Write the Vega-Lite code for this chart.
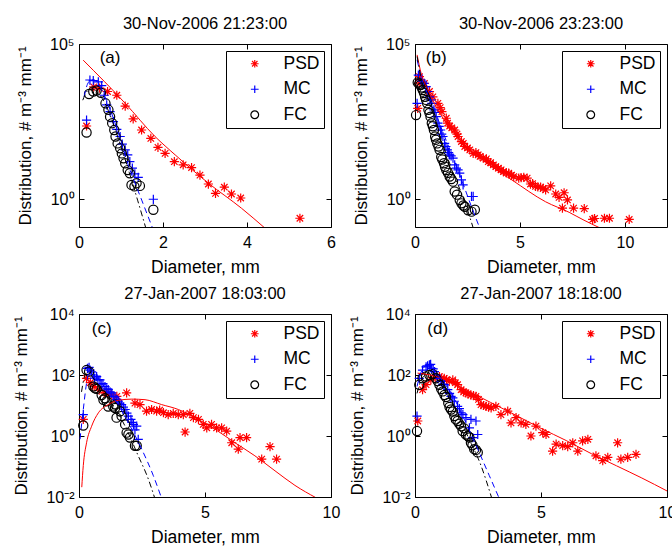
{
"$schema": "https://vega.github.io/schema/vega-lite/v6.json",
"background": "white",
"padding": {"left": 12, "top": 15, "right": 0, "bottom": 0},
"columns": 2,
"spacing": {"row": 87, "column": 84},
"bounds": "flush",
"resolve": {"scale": {"color": "independent", "shape": "independent"}},
"config": {
  "font": "Liberation Sans",
  "view": {"stroke": "black", "strokeWidth": 1},
  "axis": {"domain": false, "grid": false, "tickColor": "black", "tickSize": -5, "tickWidth": 1, "labelFont": "Liberation Sans", "labelFontSize": 16, "labelColor": "black", "labelFlush": false, "labelOverlap": false, "titleFont": "Liberation Sans", "titleFontWeight": "normal", "titleColor": "black"},
  "axisX": {"labelPadding": 12, "titlePadding": 8, "titleFontSize": 17.5},
  "axisY": {"labelPadding": 10, "titlePadding": 15, "titleFontSize": 17},
  "title": {"font": "Liberation Sans", "fontSize": 16.5, "fontWeight": "normal", "color": "black", "offset": 4, "frame": "group", "anchor": "middle"},
  "legend": {"orient": "top-right", "offset": 7, "strokeColor": "black", "fillColor": "white", "padding": 4, "rowPadding": 6.5, "symbolOffset": 16, "labelOffset": 20, "symbolSize": 60, "symbolStrokeWidth": 1.2, "labelFont": "Liberation Sans", "labelFontSize": 17.5, "labelColor": "black", "cornerRadius": 0}
},
"datasets": {
"pa": [
{"s":"PSD","D":0.18,"N":229},{"s":"PSD","D":0.35,"N":4169},{"s":"PSD","D":0.49,"N":3802},{"s":"PSD","D":0.68,"N":2951},{"s":"PSD","D":0.90,"N":2239},{"s":"PSD","D":1.10,"N":1000},{"s":"PSD","D":1.29,"N":389},{"s":"PSD","D":1.49,"N":170},{"s":"PSD","D":1.71,"N":91},{"s":"PSD","D":1.88,"N":47},{"s":"PSD","D":2.05,"N":30},{"s":"PSD","D":2.27,"N":16.2},{"s":"PSD","D":2.48,"N":12.9},{"s":"PSD","D":2.68,"N":10.5},{"s":"PSD","D":2.88,"N":6.0},{"s":"PSD","D":3.08,"N":3.1},{"s":"PSD","D":3.25,"N":1.55},{"s":"PSD","D":3.46,"N":2.45},{"s":"PSD","D":3.63,"N":1.48},{"s":"PSD","D":3.85,"N":1.10},{"s":"PSD","D":5.26,"N":0.245},
{"s":"MC","D":0.18,"N":355},{"s":"MC","D":0.26,"N":6918},{"s":"MC","D":0.34,"N":6607},{"s":"MC","D":0.46,"N":6026},{"s":"MC","D":0.54,"N":4571},{"s":"MC","D":0.60,"N":2239},{"s":"MC","D":0.66,"N":1096},{"s":"MC","D":0.74,"N":661},{"s":"MC","D":0.82,"N":316},{"s":"MC","D":0.90,"N":178},{"s":"MC","D":0.98,"N":105},{"s":"MC","D":1.03,"N":60},{"s":"MC","D":1.10,"N":39},{"s":"MC","D":1.16,"N":27},{"s":"MC","D":1.21,"N":16.2},{"s":"MC","D":1.27,"N":10},{"s":"MC","D":1.33,"N":6.6},{"s":"MC","D":1.41,"N":5.1},{"s":"MC","D":1.77,"N":1.0},
{"s":"FC","D":0.18,"N":141},{"s":"FC","D":0.24,"N":2455},{"s":"FC","D":0.34,"N":2951},{"s":"FC","D":0.42,"N":3162},{"s":"FC","D":0.52,"N":2692},{"s":"FC","D":0.63,"N":1230},{"s":"FC","D":0.70,"N":759},{"s":"FC","D":0.74,"N":457},{"s":"FC","D":0.79,"N":282},{"s":"FC","D":0.84,"N":170},{"s":"FC","D":0.87,"N":105},{"s":"FC","D":0.92,"N":63},{"s":"FC","D":0.98,"N":44},{"s":"FC","D":1.02,"N":30},{"s":"FC","D":1.06,"N":21},{"s":"FC","D":1.10,"N":14.5},{"s":"FC","D":1.16,"N":8.7},{"s":"FC","D":1.21,"N":6.9},{"s":"FC","D":1.25,"N":2.9},{"s":"FC","D":1.32,"N":2.6},{"s":"FC","D":1.37,"N":3.3},{"s":"FC","D":1.45,"N":2.7},{"s":"FC","D":1.77,"N":0.46}
],
"la": [
{"s":"PSD","D":0.10,"N":30200},{"s":"PSD","D":1.10,"N":1230},{"s":"PSD","D":1.81,"N":105},{"s":"PSD","D":2.29,"N":26.9},{"s":"PSD","D":3.08,"N":3.31},{"s":"PSD","D":3.87,"N":0.513},{"s":"PSD","D":4.42,"N":0.12},
{"s":"MC","D":0.12,"N":1995},{"s":"MC","D":0.2,"N":5012},{"s":"MC","D":0.3,"N":7079},{"s":"MC","D":0.4,"N":6607},{"s":"MC","D":0.55,"N":3162},{"s":"MC","D":0.7,"N":1096},{"s":"MC","D":0.9,"N":195},{"s":"MC","D":1.2,"N":10},{"s":"MC","D":1.5,"N":0.89},{"s":"MC","D":1.75,"N":0.12},
{"s":"FC","D":0.09,"N":1549},{"s":"FC","D":0.2,"N":3090},{"s":"FC","D":0.3,"N":3548},{"s":"FC","D":0.4,"N":3162},{"s":"FC","D":0.55,"N":1778},{"s":"FC","D":0.7,"N":708},{"s":"FC","D":0.9,"N":126},{"s":"FC","D":1.2,"N":7.1},{"s":"FC","D":1.4,"N":0.89},{"s":"FC","D":1.59,"N":0.12}
],
"pb": [
{"s":"PSD","D":0.13,"N":851},{"s":"PSD","D":0.20,"N":5495},{"s":"PSD","D":0.21,"N":8913},{"s":"PSD","D":0.45,"N":5370},{"s":"PSD","D":0.69,"N":2951},{"s":"PSD","D":0.85,"N":1995},{"s":"PSD","D":1.09,"N":1230},{"s":"PSD","D":1.2,"N":891},{"s":"PSD","D":1.28,"N":661},{"s":"PSD","D":1.49,"N":407},{"s":"PSD","D":1.55,"N":282},{"s":"PSD","D":1.65,"N":229},{"s":"PSD","D":1.75,"N":200},{"s":"PSD","D":1.89,"N":170},{"s":"PSD","D":2.0,"N":126},{"s":"PSD","D":2.05,"N":105},{"s":"PSD","D":2.21,"N":72},{"s":"PSD","D":2.3,"N":63},{"s":"PSD","D":2.37,"N":50},{"s":"PSD","D":2.5,"N":45},{"s":"PSD","D":2.61,"N":39},{"s":"PSD","D":2.77,"N":30},{"s":"PSD","D":2.9,"N":32},{"s":"PSD","D":3.01,"N":27},{"s":"PSD","D":3.1,"N":24},{"s":"PSD","D":3.25,"N":21},{"s":"PSD","D":3.4,"N":20},{"s":"PSD","D":3.49,"N":16.2},{"s":"PSD","D":3.6,"N":15.1},{"s":"PSD","D":3.73,"N":12.9},{"s":"PSD","D":3.85,"N":11.2},{"s":"PSD","D":3.97,"N":10},{"s":"PSD","D":4.1,"N":8.9},{"s":"PSD","D":4.21,"N":7.8},{"s":"PSD","D":4.35,"N":7.1},{"s":"PSD","D":4.46,"N":6.9},{"s":"PSD","D":4.6,"N":6.0},{"s":"PSD","D":4.70,"N":5.4},{"s":"PSD","D":4.94,"N":4.8},{"s":"PSD","D":5.05,"N":5.0},{"s":"PSD","D":5.18,"N":5.1},{"s":"PSD","D":5.34,"N":4.8},{"s":"PSD","D":5.50,"N":3.1},{"s":"PSD","D":5.6,"N":3.2},{"s":"PSD","D":5.74,"N":2.6},{"s":"PSD","D":5.85,"N":2.5},{"s":"PSD","D":5.98,"N":2.45},{"s":"PSD","D":6.1,"N":2.24},{"s":"PSD","D":6.22,"N":2.0},{"s":"PSD","D":6.46,"N":2.7},{"s":"PSD","D":6.70,"N":1.48},{"s":"PSD","D":6.86,"N":1.15},{"s":"PSD","D":7.02,"N":0.52},{"s":"PSD","D":7.10,"N":1.62},{"s":"PSD","D":7.26,"N":0.95},{"s":"PSD","D":7.55,"N":0.52},{"s":"PSD","D":8.06,"N":0.50},{"s":"PSD","D":8.46,"N":0.224},{"s":"PSD","D":8.55,"N":0.24},{"s":"PSD","D":9.02,"N":0.245},{"s":"PSD","D":9.26,"N":0.245},{"s":"PSD","D":10.2,"N":0.224},
{"s":"MC","D":0.10,"N":1230},{"s":"MC","D":0.16,"N":10000},{"s":"MC","D":0.29,"N":6918},{"s":"MC","D":0.35,"N":6310},{"s":"MC","D":0.42,"N":5370},{"s":"MC","D":0.53,"N":4266},{"s":"MC","D":0.61,"N":2951},{"s":"MC","D":0.69,"N":1995},{"s":"MC","D":0.75,"N":1585},{"s":"MC","D":0.80,"N":1230},{"s":"MC","D":0.90,"N":759},{"s":"MC","D":0.95,"N":631},{"s":"MC","D":1.01,"N":457},{"s":"MC","D":1.09,"N":282},{"s":"MC","D":1.15,"N":224},{"s":"MC","D":1.22,"N":170},{"s":"MC","D":1.27,"N":126},{"s":"MC","D":1.33,"N":105},{"s":"MC","D":1.41,"N":63},{"s":"MC","D":1.47,"N":50},{"s":"MC","D":1.54,"N":39},{"s":"MC","D":1.6,"N":32},{"s":"MC","D":1.65,"N":27},{"s":"MC","D":1.72,"N":25},{"s":"MC","D":1.81,"N":21},{"s":"MC","D":1.89,"N":12.9},{"s":"MC","D":1.97,"N":10},{"s":"MC","D":2.05,"N":8.9},{"s":"MC","D":2.13,"N":6.9},{"s":"MC","D":2.21,"N":4.2},{"s":"MC","D":2.29,"N":2.9},{"s":"MC","D":2.69,"N":1.23},{"s":"MC","D":2.77,"N":1.23},
{"s":"FC","D":0.05,"N":513},{"s":"FC","D":0.13,"N":5754},{"s":"FC","D":0.2,"N":5248},{"s":"FC","D":0.26,"N":4786},{"s":"FC","D":0.32,"N":3981},{"s":"FC","D":0.37,"N":3311},{"s":"FC","D":0.43,"N":2630},{"s":"FC","D":0.48,"N":1995},{"s":"FC","D":0.53,"N":1585},{"s":"FC","D":0.58,"N":1230},{"s":"FC","D":0.64,"N":759},{"s":"FC","D":0.69,"N":603},{"s":"FC","D":0.74,"N":457},{"s":"FC","D":0.80,"N":282},{"s":"FC","D":0.85,"N":224},{"s":"FC","D":0.90,"N":170},{"s":"FC","D":0.96,"N":105},{"s":"FC","D":1.0,"N":83},{"s":"FC","D":1.06,"N":63},{"s":"FC","D":1.12,"N":50},{"s":"FC","D":1.17,"N":39},{"s":"FC","D":1.25,"N":23},{"s":"FC","D":1.3,"N":19},{"s":"FC","D":1.38,"N":14.5},{"s":"FC","D":1.43,"N":11.2},{"s":"FC","D":1.49,"N":8.7},{"s":"FC","D":1.57,"N":7.1},{"s":"FC","D":1.65,"N":5.4},{"s":"FC","D":1.73,"N":4.5},{"s":"FC","D":1.81,"N":3.7},{"s":"FC","D":1.89,"N":1.78},{"s":"FC","D":2.0,"N":1.41},{"s":"FC","D":2.13,"N":0.95},{"s":"FC","D":2.21,"N":0.74},{"s":"FC","D":2.3,"N":0.63},{"s":"FC","D":2.37,"N":0.575},{"s":"FC","D":2.53,"N":0.44},{"s":"FC","D":2.69,"N":0.40},{"s":"FC","D":2.85,"N":0.46}
],
"lb": [
{"s":"PSD","D":0.10,"N":44668},{"s":"PSD","D":0.29,"N":11482},{"s":"PSD","D":0.61,"N":3311},{"s":"PSD","D":1.09,"N":759},{"s":"PSD","D":1.73,"N":170},{"s":"PSD","D":2.37,"N":56},{"s":"PSD","D":3.33,"N":16.2},{"s":"PSD","D":4.62,"N":4.17},{"s":"PSD","D":6.22,"N":0.83},{"s":"PSD","D":7.34,"N":0.38},{"s":"PSD","D":8.0,"N":0.22},{"s":"PSD","D":8.8,"N":0.12},
{"s":"MC","D":0.10,"N":30903},{"s":"MC","D":0.29,"N":8913},{"s":"MC","D":0.77,"N":1380},{"s":"MC","D":1.41,"N":105},{"s":"MC","D":2.05,"N":8.7},{"s":"MC","D":2.69,"N":0.575},{"s":"MC","D":3.08,"N":0.12},
{"s":"FC","D":0.10,"N":39811},{"s":"FC","D":0.29,"N":7943},{"s":"FC","D":0.69,"N":1230},{"s":"FC","D":1.25,"N":81},{"s":"FC","D":1.89,"N":5.4},{"s":"FC","D":2.37,"N":0.83},{"s":"FC","D":2.77,"N":0.12}
],
"pc": [
{"s":"PSD","D":0.17,"N":3.5},{"s":"PSD","D":0.30,"N":78},{"s":"PSD","D":0.45,"N":56},{"s":"PSD","D":0.60,"N":42},{"s":"PSD","D":0.80,"N":32},{"s":"PSD","D":1.00,"N":26},{"s":"PSD","D":1.15,"N":24},{"s":"PSD","D":1.30,"N":22},{"s":"PSD","D":1.50,"N":20},{"s":"PSD","D":1.89,"N":26},{"s":"PSD","D":2.22,"N":12},{"s":"PSD","D":2.42,"N":10.7},{"s":"PSD","D":2.68,"N":6.5},{"s":"PSD","D":2.88,"N":7.4},{"s":"PSD","D":3.08,"N":6.5},{"s":"PSD","D":3.2,"N":7.1},{"s":"PSD","D":3.35,"N":5.8},{"s":"PSD","D":3.54,"N":5.0},{"s":"PSD","D":3.74,"N":5.5},{"s":"PSD","D":3.94,"N":5.0},{"s":"PSD","D":4.14,"N":5.0},{"s":"PSD","D":4.21,"N":1.35},{"s":"PSD","D":4.40,"N":5.5},{"s":"PSD","D":4.54,"N":4.0},{"s":"PSD","D":4.74,"N":3.5},{"s":"PSD","D":4.93,"N":2.4},{"s":"PSD","D":5.07,"N":1.86},{"s":"PSD","D":5.26,"N":2.4},{"s":"PSD","D":5.46,"N":1.86},{"s":"PSD","D":5.66,"N":1.86},{"s":"PSD","D":5.86,"N":1.45},{"s":"PSD","D":6.06,"N":0.60},{"s":"PSD","D":6.32,"N":0.37},{"s":"PSD","D":6.39,"N":0.89},{"s":"PSD","D":6.65,"N":0.89},{"s":"PSD","D":7.25,"N":0.174},{"s":"PSD","D":7.58,"N":0.45},{"s":"PSD","D":7.84,"N":0.174},
{"s":"MC","D":0.17,"N":5.0},{"s":"MC","D":0.34,"N":166},{"s":"MC","D":0.40,"N":178},{"s":"MC","D":0.44,"N":145},{"s":"MC","D":0.50,"N":126},{"s":"MC","D":0.57,"N":100},{"s":"MC","D":0.62,"N":79},{"s":"MC","D":0.70,"N":89},{"s":"MC","D":0.75,"N":71},{"s":"MC","D":0.83,"N":69},{"s":"MC","D":0.88,"N":50},{"s":"MC","D":0.95,"N":52},{"s":"MC","D":1.03,"N":42},{"s":"MC","D":1.10,"N":35},{"s":"MC","D":1.16,"N":33},{"s":"MC","D":1.23,"N":28},{"s":"MC","D":1.30,"N":26},{"s":"MC","D":1.36,"N":20},{"s":"MC","D":1.43,"N":19},{"s":"MC","D":1.50,"N":15.8},{"s":"MC","D":1.56,"N":13.8},{"s":"MC","D":1.62,"N":12},{"s":"MC","D":1.69,"N":10.7},{"s":"MC","D":1.76,"N":8.9},{"s":"MC","D":1.83,"N":7.4},{"s":"MC","D":1.90,"N":5.6},{"s":"MC","D":1.96,"N":4.5},{"s":"MC","D":2.06,"N":3.5},{"s":"MC","D":2.10,"N":2.8},{"s":"MC","D":2.16,"N":2.4},{"s":"MC","D":2.22,"N":1.58},{"s":"MC","D":2.29,"N":2.1},{"s":"MC","D":2.35,"N":0.78},
{"s":"FC","D":0.17,"N":2.2},{"s":"FC","D":0.30,"N":145},{"s":"FC","D":0.40,"N":129},{"s":"FC","D":0.57,"N":42},{"s":"FC","D":0.63,"N":37},{"s":"FC","D":0.70,"N":35},{"s":"FC","D":0.90,"N":22},{"s":"FC","D":0.97,"N":15.5},{"s":"FC","D":1.03,"N":17.4},{"s":"FC","D":1.10,"N":13.8},{"s":"FC","D":1.16,"N":9.3},{"s":"FC","D":1.36,"N":9.3},{"s":"FC","D":1.43,"N":8.3},{"s":"FC","D":1.45,"N":10.7},{"s":"FC","D":1.49,"N":4.0},{"s":"FC","D":1.63,"N":6.5},{"s":"FC","D":1.69,"N":4.5},{"s":"FC","D":1.83,"N":2.4},{"s":"FC","D":1.89,"N":1.29},{"s":"FC","D":1.96,"N":1.12},{"s":"FC","D":2.02,"N":0.89},{"s":"FC","D":2.22,"N":0.48},{"s":"FC","D":2.29,"N":0.48}
],
"lc": [
{"s":"PSD","D":0.11,"N":0.021},{"s":"PSD","D":0.17,"N":0.107},{"s":"PSD","D":0.30,"N":0.60},{"s":"PSD","D":0.50,"N":2.09},{"s":"PSD","D":0.77,"N":5.75},{"s":"PSD","D":1.16,"N":10.7},{"s":"PSD","D":1.56,"N":14.8},{"s":"PSD","D":2.09,"N":16.2},{"s":"PSD","D":2.62,"N":15.5},{"s":"PSD","D":3.28,"N":10.7},{"s":"PSD","D":3.94,"N":7.4},{"s":"PSD","D":4.60,"N":4.0},{"s":"PSD","D":5.40,"N":1.66},{"s":"PSD","D":6.19,"N":0.60},{"s":"PSD","D":6.98,"N":0.224},{"s":"PSD","D":7.78,"N":0.072},{"s":"PSD","D":8.57,"N":0.024},{"s":"PSD","D":9.4,"N":0.0095},
{"s":"MC","D":0.04,"N":0.78},{"s":"MC","D":0.17,"N":7.4},{"s":"MC","D":0.30,"N":54},{"s":"MC","D":0.40,"N":129},{"s":"MC","D":0.47,"N":148},{"s":"MC","D":0.6,"N":126},{"s":"MC","D":0.90,"N":54},{"s":"MC","D":1.43,"N":15.5},{"s":"MC","D":1.96,"N":2.7},{"s":"MC","D":2.49,"N":0.37},{"s":"MC","D":2.95,"N":0.05},{"s":"MC","D":3.27,"N":0.0095},
{"s":"FC","D":0.1,"N":28},{"s":"FC","D":0.2,"N":79},{"s":"FC","D":0.3,"N":120},{"s":"FC","D":0.37,"N":126},{"s":"FC","D":0.5,"N":93},{"s":"FC","D":0.77,"N":48},{"s":"FC","D":1.30,"N":12},{"s":"FC","D":1.83,"N":2.09},{"s":"FC","D":2.35,"N":0.224},{"s":"FC","D":2.75,"N":0.039},{"s":"FC","D":3.0,"N":0.0095}
],
"pd": [
{"s":"PSD","D":0.11,"N":3.1},{"s":"PSD","D":0.30,"N":33},{"s":"PSD","D":0.44,"N":48},{"s":"PSD","D":0.63,"N":69},{"s":"PSD","D":0.80,"N":83},{"s":"PSD","D":0.97,"N":89},{"s":"PSD","D":1.05,"N":79},{"s":"PSD","D":1.16,"N":78},{"s":"PSD","D":1.25,"N":71},{"s":"PSD","D":1.36,"N":62},{"s":"PSD","D":1.50,"N":69},{"s":"PSD","D":1.6,"N":56},{"s":"PSD","D":1.69,"N":48},{"s":"PSD","D":1.83,"N":33},{"s":"PSD","D":1.93,"N":28},{"s":"PSD","D":2.02,"N":26},{"s":"PSD","D":2.1,"N":24},{"s":"PSD","D":2.22,"N":22},{"s":"PSD","D":2.32,"N":21},{"s":"PSD","D":2.42,"N":20},{"s":"PSD","D":2.52,"N":15.8},{"s":"PSD","D":2.62,"N":10.7},{"s":"PSD","D":2.72,"N":10},{"s":"PSD","D":2.82,"N":9.3},{"s":"PSD","D":2.92,"N":8.9},{"s":"PSD","D":3.02,"N":8.3},{"s":"PSD","D":3.21,"N":9.3},{"s":"PSD","D":3.41,"N":5.0},{"s":"PSD","D":3.68,"N":6.5},{"s":"PSD","D":3.81,"N":2.7},{"s":"PSD","D":4.01,"N":4.0},{"s":"PSD","D":4.21,"N":2.7},{"s":"PSD","D":4.40,"N":2.4},{"s":"PSD","D":4.60,"N":1.0},{"s":"PSD","D":4.80,"N":2.1},{"s":"PSD","D":5.07,"N":1.29},{"s":"PSD","D":5.20,"N":1.12},{"s":"PSD","D":5.46,"N":0.32},{"s":"PSD","D":5.60,"N":0.54},{"s":"PSD","D":5.86,"N":0.48},{"s":"PSD","D":6.06,"N":0.45},{"s":"PSD","D":6.26,"N":0.60},{"s":"PSD","D":6.46,"N":0.32},{"s":"PSD","D":6.65,"N":0.69},{"s":"PSD","D":6.86,"N":0.78},{"s":"PSD","D":7.18,"N":0.224},{"s":"PSD","D":7.45,"N":0.155},{"s":"PSD","D":7.65,"N":0.20},{"s":"PSD","D":8.04,"N":0.60},{"s":"PSD","D":8.17,"N":0.174},{"s":"PSD","D":8.44,"N":0.20},{"s":"PSD","D":8.77,"N":0.25},
{"s":"MC","D":0.08,"N":4.5},{"s":"MC","D":0.17,"N":78},{"s":"MC","D":0.30,"N":145},{"s":"MC","D":0.44,"N":186},{"s":"MC","D":0.50,"N":200},{"s":"MC","D":0.57,"N":214},{"s":"MC","D":0.62,"N":224},{"s":"MC","D":0.66,"N":166},{"s":"MC","D":0.72,"N":158},{"s":"MC","D":0.77,"N":129},{"s":"MC","D":0.85,"N":100},{"s":"MC","D":0.90,"N":78},{"s":"MC","D":1.03,"N":62},{"s":"MC","D":1.10,"N":50},{"s":"MC","D":1.16,"N":48},{"s":"MC","D":1.30,"N":33},{"s":"MC","D":1.37,"N":25},{"s":"MC","D":1.43,"N":20},{"s":"MC","D":1.50,"N":17.8},{"s":"MC","D":1.56,"N":13.8},{"s":"MC","D":1.69,"N":9.3},{"s":"MC","D":1.76,"N":7.9},{"s":"MC","D":1.83,"N":5.75},{"s":"MC","D":1.90,"N":5.0},{"s":"MC","D":2.02,"N":4.0},{"s":"MC","D":2.16,"N":1.86},{"s":"MC","D":2.22,"N":3.5},{"s":"MC","D":2.29,"N":0.89},{"s":"MC","D":2.42,"N":3.1},{"s":"MC","D":2.49,"N":1.12},
{"s":"FC","D":0.08,"N":1.45},{"s":"FC","D":0.17,"N":48},{"s":"FC","D":0.30,"N":78},{"s":"FC","D":0.44,"N":89},{"s":"FC","D":0.57,"N":100},{"s":"FC","D":0.70,"N":107},{"s":"FC","D":0.83,"N":78},{"s":"FC","D":0.90,"N":63},{"s":"FC","D":0.97,"N":48},{"s":"FC","D":1.04,"N":35},{"s":"FC","D":1.10,"N":29},{"s":"FC","D":1.17,"N":22},{"s":"FC","D":1.23,"N":19},{"s":"FC","D":1.32,"N":12},{"s":"FC","D":1.37,"N":8.9},{"s":"FC","D":1.43,"N":7.4},{"s":"FC","D":1.50,"N":6.3},{"s":"FC","D":1.56,"N":4.5},{"s":"FC","D":1.62,"N":3.5},{"s":"FC","D":1.69,"N":3.1},{"s":"FC","D":1.76,"N":2.5},{"s":"FC","D":1.83,"N":2.1},{"s":"FC","D":1.89,"N":1.45},{"s":"FC","D":1.95,"N":1.78},{"s":"FC","D":2.02,"N":1.12},{"s":"FC","D":2.10,"N":1.0},{"s":"FC","D":2.16,"N":0.89},{"s":"FC","D":2.22,"N":0.60},{"s":"FC","D":2.28,"N":0.5},{"s":"FC","D":2.35,"N":0.37},{"s":"FC","D":2.42,"N":0.35},{"s":"FC","D":2.49,"N":0.29}
],
"ld": [
{"s":"PSD","D":0.1,"N":115},{"s":"PSD","D":0.6,"N":100},{"s":"PSD","D":1.2,"N":71},{"s":"PSD","D":2.0,"N":33},{"s":"PSD","D":3.0,"N":12.6},{"s":"PSD","D":4.0,"N":4.8},{"s":"PSD","D":5.0,"N":1.78},{"s":"PSD","D":6.0,"N":0.71},{"s":"PSD","D":7.0,"N":0.263},{"s":"PSD","D":8.0,"N":0.105},{"s":"PSD","D":9.0,"N":0.042},{"s":"PSD","D":10.0,"N":0.0158},
{"s":"MC","D":0.08,"N":42},{"s":"MC","D":0.2,"N":100},{"s":"MC","D":0.35,"N":178},{"s":"MC","D":0.5,"N":214},{"s":"MC","D":0.65,"N":178},{"s":"MC","D":0.90,"N":100},{"s":"MC","D":1.43,"N":26},{"s":"MC","D":1.96,"N":3.5},{"s":"MC","D":2.49,"N":0.37},{"s":"MC","D":2.95,"N":0.05},{"s":"MC","D":3.33,"N":0.0095},
{"s":"FC","D":0.08,"N":25},{"s":"FC","D":0.2,"N":56},{"s":"FC","D":0.4,"N":100},{"s":"FC","D":0.57,"N":115},{"s":"FC","D":0.75,"N":100},{"s":"FC","D":1.03,"N":48},{"s":"FC","D":1.56,"N":9.3},{"s":"FC","D":2.09,"N":1.0},{"s":"FC","D":2.62,"N":0.107},{"s":"FC","D":3.04,"N":0.0095}
]
},
"concat": [
{
 "width": 252, "height": 183,
 "title": {"text": "30-Nov-2006 21:23:00"},
 "resolve": {"axis": {"x": "independent", "y": "independent"}},
 "layer": [
  {"data": {"name": "pa"}, "mark": {"type": "point", "filled": false, "size": 85, "strokeWidth": 1.2, "opacity": 1},
   "encoding": {
    "x": {"field": "D", "type": "quantitative", "scale": {"domain": [0, 6], "nice": false, "zero": false}, "axis": {"values": [0, 2, 4, 6], "title": "Diameter, mm"}},
    "y": {"field": "N", "type": "quantitative", "scale": {"type": "log", "domain": [0.128, 100000], "nice": false}, "axis": {"values": [1, 100000], "labelExpr": "datum.value > 1000 ? '10⁵' : '10⁰'", "title": "Distribution, # m⁻³ mm⁻¹"}},
    "color": {"field": "s", "type": "nominal", "scale": {"domain": ["PSD", "MC", "FC"], "range": ["#ff0000", "#0000ff", "#000000"]}, "legend": {"title": null}},
    "shape": {"field": "s", "type": "nominal", "scale": {"domain": ["PSD", "MC", "FC"], "range": ["M-1,0L1,0M0,-1L0,1M-0.7,-0.7L0.7,0.7M-0.7,0.7L0.7,-0.7", "M-1,0L1,0M0,-1L0,1", "circle"]}, "legend": {"title": null}}
   }},
  {"data": {"name": "la"}, "transform": [{"filter": "datum.s === 'PSD'"}], "mark": {"type": "line", "color": "#ff0000", "strokeWidth": 1, "clip": true, "interpolate": "monotone"},
   "encoding": {
    "x": {"field": "D", "type": "quantitative", "scale": {"domain": [0, 6], "nice": false, "zero": false}, "axis": {"orient": "top", "values": [0, 2, 4, 6], "labels": false, "title": null}},
    "y": {"field": "N", "type": "quantitative", "scale": {"type": "log", "domain": [0.128, 100000], "nice": false}, "axis": {"orient": "right", "values": [1, 100000], "labels": false, "title": null}}
   }},
  {"data": {"name": "la"}, "transform": [{"filter": "datum.s === 'MC'"}], "mark": {"type": "line", "color": "#0000ff", "strokeWidth": 1, "strokeDash": [6, 4], "clip": true, "interpolate": "monotone"},
   "encoding": {
    "x": {"field": "D", "type": "quantitative", "scale": {"domain": [0, 6], "nice": false, "zero": false}, "axis": null},
    "y": {"field": "N", "type": "quantitative", "scale": {"type": "log", "domain": [0.128, 100000], "nice": false}, "axis": null}
   }},
  {"data": {"name": "la"}, "transform": [{"filter": "datum.s === 'FC'"}], "mark": {"type": "line", "color": "#000000", "strokeWidth": 1, "strokeDash": [6, 3, 1.5, 3], "clip": true, "interpolate": "monotone"},
   "encoding": {
    "x": {"field": "D", "type": "quantitative", "scale": {"domain": [0, 6], "nice": false, "zero": false}, "axis": null},
    "y": {"field": "N", "type": "quantitative", "scale": {"type": "log", "domain": [0.128, 100000], "nice": false}, "axis": null}
   }},
  {"data": {"values": [{"lab": "(a)"}]}, "mark": {"type": "text", "font": "Liberation Sans", "fontSize": 17, "color": "black"},
   "encoding": {"x": {"datum": 0.74, "type": "quantitative", "axis": null}, "y": {"datum": 35000, "type": "quantitative", "axis": null}, "text": {"field": "lab"}}}
 ]
},
{
 "width": 252, "height": 183,
 "title": {"text": "30-Nov-2006 23:23:00"},
 "resolve": {"axis": {"x": "independent", "y": "independent"}},
 "layer": [
  {"data": {"name": "pb"}, "mark": {"type": "point", "filled": false, "size": 85, "strokeWidth": 1.2, "opacity": 1},
   "encoding": {
    "x": {"field": "D", "type": "quantitative", "scale": {"domain": [0, 12], "nice": false, "zero": false}, "axis": {"values": [0, 5, 10], "title": "Diameter, mm"}},
    "y": {"field": "N", "type": "quantitative", "scale": {"type": "log", "domain": [0.128, 100000], "nice": false}, "axis": {"values": [1, 100000], "labelExpr": "datum.value > 1000 ? '10⁵' : '10⁰'", "title": "Distribution, # m⁻³ mm⁻¹"}},
    "color": {"field": "s", "type": "nominal", "scale": {"domain": ["PSD", "MC", "FC"], "range": ["#ff0000", "#0000ff", "#000000"]}, "legend": {"title": null}},
    "shape": {"field": "s", "type": "nominal", "scale": {"domain": ["PSD", "MC", "FC"], "range": ["M-1,0L1,0M0,-1L0,1M-0.7,-0.7L0.7,0.7M-0.7,0.7L0.7,-0.7", "M-1,0L1,0M0,-1L0,1", "circle"]}, "legend": {"title": null}}
   }},
  {"data": {"name": "lb"}, "transform": [{"filter": "datum.s === 'PSD'"}], "mark": {"type": "line", "color": "#ff0000", "strokeWidth": 1, "clip": true, "interpolate": "monotone"},
   "encoding": {
    "x": {"field": "D", "type": "quantitative", "scale": {"domain": [0, 12], "nice": false, "zero": false}, "axis": {"orient": "top", "values": [0, 5, 10], "labels": false, "title": null}},
    "y": {"field": "N", "type": "quantitative", "scale": {"type": "log", "domain": [0.128, 100000], "nice": false}, "axis": {"orient": "right", "values": [1, 100000], "labels": false, "title": null}}
   }},
  {"data": {"name": "lb"}, "transform": [{"filter": "datum.s === 'MC'"}], "mark": {"type": "line", "color": "#0000ff", "strokeWidth": 1, "strokeDash": [6, 4], "clip": true, "interpolate": "monotone"},
   "encoding": {
    "x": {"field": "D", "type": "quantitative", "scale": {"domain": [0, 12], "nice": false, "zero": false}, "axis": null},
    "y": {"field": "N", "type": "quantitative", "scale": {"type": "log", "domain": [0.128, 100000], "nice": false}, "axis": null}
   }},
  {"data": {"name": "lb"}, "transform": [{"filter": "datum.s === 'FC'"}], "mark": {"type": "line", "color": "#000000", "strokeWidth": 1, "strokeDash": [6, 3, 1.5, 3], "clip": true, "interpolate": "monotone"},
   "encoding": {
    "x": {"field": "D", "type": "quantitative", "scale": {"domain": [0, 12], "nice": false, "zero": false}, "axis": null},
    "y": {"field": "N", "type": "quantitative", "scale": {"type": "log", "domain": [0.128, 100000], "nice": false}, "axis": null}
   }},
  {"data": {"values": [{"lab": "(b)"}]}, "mark": {"type": "text", "font": "Liberation Sans", "fontSize": 17, "color": "black"},
   "encoding": {"x": {"datum": 1.01, "type": "quantitative", "axis": null}, "y": {"datum": 35000, "type": "quantitative", "axis": null}, "text": {"field": "lab"}}}
 ]
},
{
 "width": 252, "height": 183,
 "title": {"text": "27-Jan-2007 18:03:00"},
 "resolve": {"axis": {"x": "independent", "y": "independent"}},
 "layer": [
  {"data": {"name": "pc"}, "mark": {"type": "point", "filled": false, "size": 85, "strokeWidth": 1.2, "opacity": 1},
   "encoding": {
    "x": {"field": "D", "type": "quantitative", "scale": {"domain": [0, 10], "nice": false, "zero": false}, "axis": {"values": [0, 5, 10], "title": "Diameter, mm"}},
    "y": {"field": "N", "type": "quantitative", "scale": {"type": "log", "domain": [0.01, 10000], "nice": false}, "axis": {"values": [0.01, 1, 100, 10000], "labelExpr": "datum.value < 0.1 ? '10⁻²' : datum.value < 10 ? '10⁰' : datum.value < 1000 ? '10²' : '10⁴'", "title": "Distribution, # m⁻³ mm⁻¹"}},
    "color": {"field": "s", "type": "nominal", "scale": {"domain": ["PSD", "MC", "FC"], "range": ["#ff0000", "#0000ff", "#000000"]}, "legend": {"title": null}},
    "shape": {"field": "s", "type": "nominal", "scale": {"domain": ["PSD", "MC", "FC"], "range": ["M-1,0L1,0M0,-1L0,1M-0.7,-0.7L0.7,0.7M-0.7,0.7L0.7,-0.7", "M-1,0L1,0M0,-1L0,1", "circle"]}, "legend": {"title": null}}
   }},
  {"data": {"name": "lc"}, "transform": [{"filter": "datum.s === 'PSD'"}], "mark": {"type": "line", "color": "#ff0000", "strokeWidth": 1, "clip": true, "interpolate": "monotone"},
   "encoding": {
    "x": {"field": "D", "type": "quantitative", "scale": {"domain": [0, 10], "nice": false, "zero": false}, "axis": {"orient": "top", "values": [0, 5, 10], "labels": false, "title": null}},
    "y": {"field": "N", "type": "quantitative", "scale": {"type": "log", "domain": [0.01, 10000], "nice": false}, "axis": {"orient": "right", "values": [0.01, 1, 100, 10000], "labels": false, "title": null}}
   }},
  {"data": {"name": "lc"}, "transform": [{"filter": "datum.s === 'MC'"}], "mark": {"type": "line", "color": "#0000ff", "strokeWidth": 1, "strokeDash": [6, 4], "clip": true, "interpolate": "monotone"},
   "encoding": {
    "x": {"field": "D", "type": "quantitative", "scale": {"domain": [0, 10], "nice": false, "zero": false}, "axis": null},
    "y": {"field": "N", "type": "quantitative", "scale": {"type": "log", "domain": [0.01, 10000], "nice": false}, "axis": null}
   }},
  {"data": {"name": "lc"}, "transform": [{"filter": "datum.s === 'FC'"}], "mark": {"type": "line", "color": "#000000", "strokeWidth": 1, "strokeDash": [6, 3, 1.5, 3], "clip": true, "interpolate": "monotone"},
   "encoding": {
    "x": {"field": "D", "type": "quantitative", "scale": {"domain": [0, 10], "nice": false, "zero": false}, "axis": null},
    "y": {"field": "N", "type": "quantitative", "scale": {"type": "log", "domain": [0.01, 10000], "nice": false}, "axis": null}
   }},
  {"data": {"values": [{"lab": "(c)"}]}, "mark": {"type": "text", "font": "Liberation Sans", "fontSize": 17, "color": "black"},
   "encoding": {"x": {"datum": 0.9, "type": "quantitative", "axis": null}, "y": {"datum": 3300, "type": "quantitative", "axis": null}, "text": {"field": "lab"}}}
 ]
},
{
 "width": 252, "height": 183,
 "title": {"text": "27-Jan-2007 18:18:00"},
 "resolve": {"axis": {"x": "independent", "y": "independent"}},
 "layer": [
  {"data": {"name": "pd"}, "mark": {"type": "point", "filled": false, "size": 85, "strokeWidth": 1.2, "opacity": 1},
   "encoding": {
    "x": {"field": "D", "type": "quantitative", "scale": {"domain": [0, 10], "nice": false, "zero": false}, "axis": {"values": [0, 5, 10], "title": "Diameter, mm"}},
    "y": {"field": "N", "type": "quantitative", "scale": {"type": "log", "domain": [0.01, 10000], "nice": false}, "axis": {"values": [0.01, 1, 100, 10000], "labelExpr": "datum.value < 0.1 ? '10⁻²' : datum.value < 10 ? '10⁰' : datum.value < 1000 ? '10²' : '10⁴'", "title": "Distribution, # m⁻³ mm⁻¹"}},
    "color": {"field": "s", "type": "nominal", "scale": {"domain": ["PSD", "MC", "FC"], "range": ["#ff0000", "#0000ff", "#000000"]}, "legend": {"title": null}},
    "shape": {"field": "s", "type": "nominal", "scale": {"domain": ["PSD", "MC", "FC"], "range": ["M-1,0L1,0M0,-1L0,1M-0.7,-0.7L0.7,0.7M-0.7,0.7L0.7,-0.7", "M-1,0L1,0M0,-1L0,1", "circle"]}, "legend": {"title": null}}
   }},
  {"data": {"name": "ld"}, "transform": [{"filter": "datum.s === 'PSD'"}], "mark": {"type": "line", "color": "#ff0000", "strokeWidth": 1, "clip": true, "interpolate": "monotone"},
   "encoding": {
    "x": {"field": "D", "type": "quantitative", "scale": {"domain": [0, 10], "nice": false, "zero": false}, "axis": {"orient": "top", "values": [0, 5, 10], "labels": false, "title": null}},
    "y": {"field": "N", "type": "quantitative", "scale": {"type": "log", "domain": [0.01, 10000], "nice": false}, "axis": {"orient": "right", "values": [0.01, 1, 100, 10000], "labels": false, "title": null}}
   }},
  {"data": {"name": "ld"}, "transform": [{"filter": "datum.s === 'MC'"}], "mark": {"type": "line", "color": "#0000ff", "strokeWidth": 1, "strokeDash": [6, 4], "clip": true, "interpolate": "monotone"},
   "encoding": {
    "x": {"field": "D", "type": "quantitative", "scale": {"domain": [0, 10], "nice": false, "zero": false}, "axis": null},
    "y": {"field": "N", "type": "quantitative", "scale": {"type": "log", "domain": [0.01, 10000], "nice": false}, "axis": null}
   }},
  {"data": {"name": "ld"}, "transform": [{"filter": "datum.s === 'FC'"}], "mark": {"type": "line", "color": "#000000", "strokeWidth": 1, "strokeDash": [6, 3, 1.5, 3], "clip": true, "interpolate": "monotone"},
   "encoding": {
    "x": {"field": "D", "type": "quantitative", "scale": {"domain": [0, 10], "nice": false, "zero": false}, "axis": null},
    "y": {"field": "N", "type": "quantitative", "scale": {"type": "log", "domain": [0.01, 10000], "nice": false}, "axis": null}
   }},
  {"data": {"values": [{"lab": "(d)"}]}, "mark": {"type": "text", "font": "Liberation Sans", "fontSize": 17, "color": "black"},
   "encoding": {"x": {"datum": 0.9, "type": "quantitative", "axis": null}, "y": {"datum": 3300, "type": "quantitative", "axis": null}, "text": {"field": "lab"}}}
 ]
}
]
}
